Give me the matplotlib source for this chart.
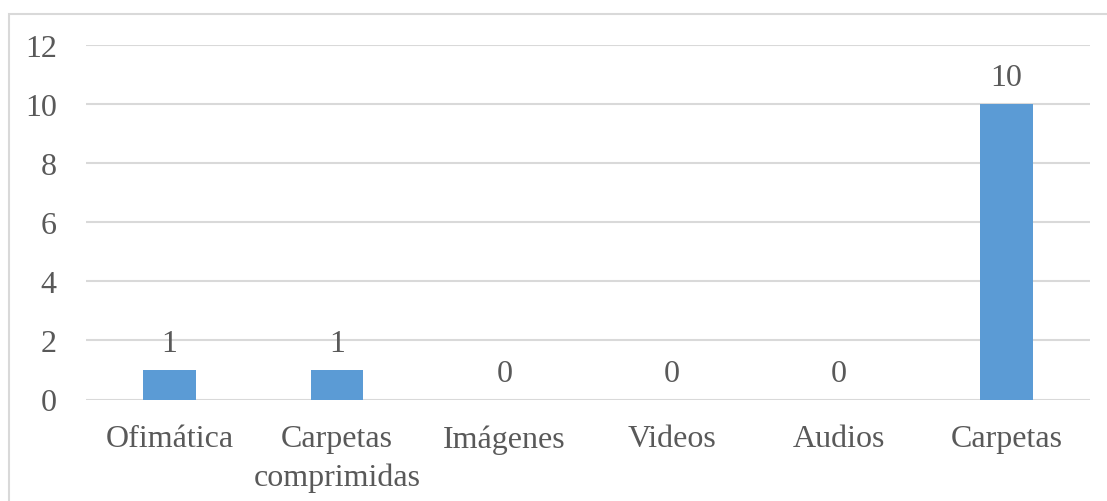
import matplotlib
matplotlib.use("Agg")
import matplotlib.pyplot as plt
from matplotlib.patches import Rectangle

categories = ["Ofimática", "Carpetas\ncomprimidas", "Imágenes", "Videos", "Audios", "Carpetas"]
values = [1, 1, 0, 0, 0, 10]
yticks = [0, 2, 4, 6, 8, 10, 12]

text_color = "#595959"
bar_color = "#5B9BD5"
grid_color = "#D9D9D9"

plt.rcParams["font.family"] = "serif"
plt.rcParams["font.serif"] = ["Liberation Serif", "DejaVu Serif"]

fig = plt.figure(figsize=(11.07, 5.02), dpi=100)
fig.patches.append(Rectangle((9 / 1107, -0.1), 1.2, 1 - 15 / 502 + 0.1,
                             transform=fig.transFigure, fill=False,
                             edgecolor=grid_color, linewidth=1.5))

ax = fig.add_axes([86 / 1107, 1 - 400.5 / 502, (1090 - 86) / 1107, (400.5 - 46) / 502])
x = range(len(categories))
bars = ax.bar(x, values, width=0.315, color=bar_color, zorder=3)

for xi, v in zip(x, values):
    ax.annotate(str(v), (xi, v), xytext=(0, 8.5), textcoords="offset points",
                ha="center", va="bottom", fontsize=23, color=text_color)

ax.set_xlim(-0.5, len(categories) - 0.5)
ax.set_ylim(0, 12)
ax.set_yticks(yticks)
ax.set_xticks(list(x))
ax.set_xticklabels(categories, fontsize=23, color=text_color, linespacing=1.38)
ax.tick_params(axis="y", labelsize=23, labelcolor=text_color, length=0, pad=21)
ax.tick_params(axis="x", length=0, pad=18)
ax.grid(axis="y", color=grid_color, linewidth=1.5, zorder=0)
for s in ax.spines.values():
    s.set_visible(False)

fig.savefig("out.png", dpi=100)
